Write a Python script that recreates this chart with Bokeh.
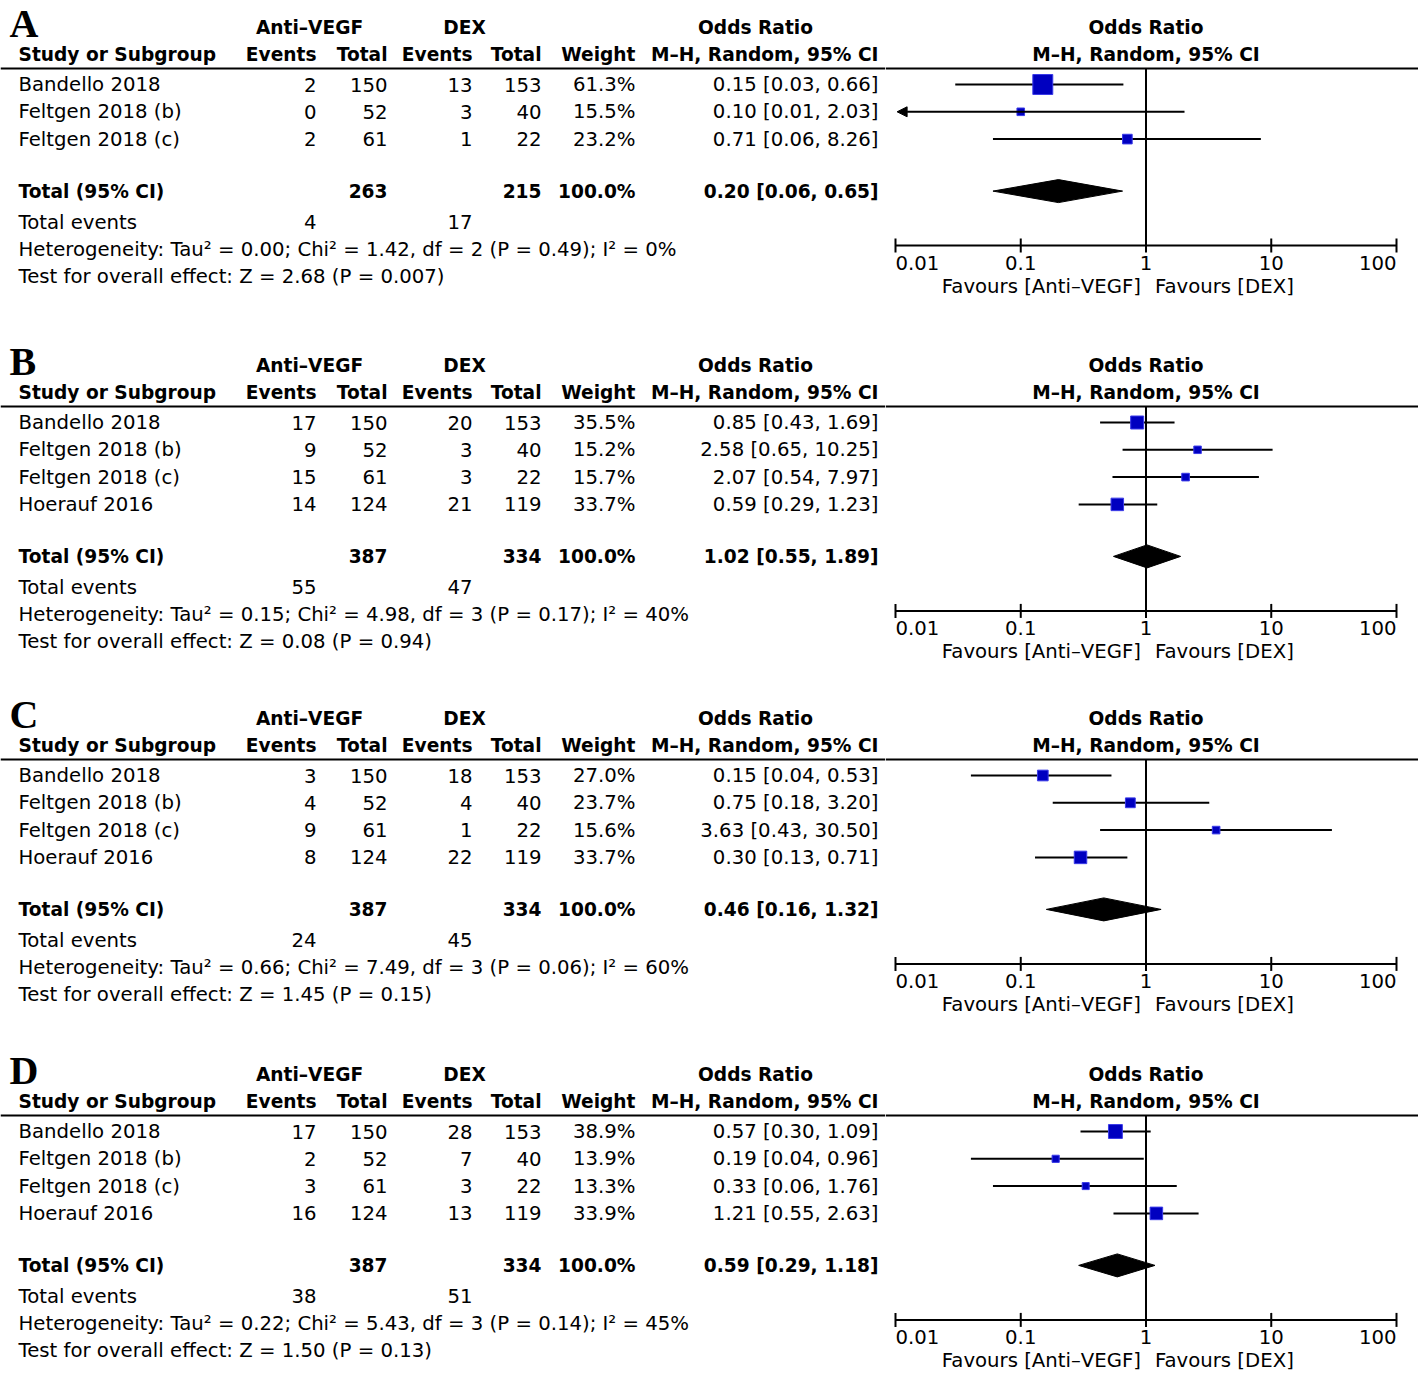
import math
from bokeh.plotting import figure
from bokeh.layouts import column, row
from bokeh.models import Range1d, Span, ColumnDataSource, Arrow, NormalHead
from bokeh.core.properties import value
from bokeh.embed import file_html
from bokeh.resources import INLINE

# ---------------- data ----------------
studies_A = ["Bandello 2018", "Feltgen 2018 (b)", "Feltgen 2018 (c)"]
studies_BCD = ["Bandello 2018", "Feltgen 2018 (b)", "Feltgen 2018 (c)", "Hoerauf 2016"]

A_anti_events = [2, 0, 2]
A_anti_total = [150, 52, 61]
A_dex_events = [13, 3, 1]
A_dex_total = [153, 40, 22]
A_weight = [61.3, 15.5, 23.2]
A_or = [0.15, 0.10, 0.71]
A_lo = [0.03, 0.01, 0.06]
A_hi = [0.66, 2.03, 8.26]
A_totals = [263, 215, 4, 17]          # anti total, dex total, anti events, dex events
A_pooled = [0.20, 0.06, 0.65]          # OR, lower, upper
A_het = "Heterogeneity: Tau² = 0.00; Chi² = 1.42, df = 2 (P = 0.49); I² = 0%"
A_test = "Test for overall effect: Z = 2.68 (P = 0.007)"

B_anti_events = [17, 9, 15, 14]
B_anti_total = [150, 52, 61, 124]
B_dex_events = [20, 3, 3, 21]
B_dex_total = [153, 40, 22, 119]
B_weight = [35.5, 15.2, 15.7, 33.7]
B_or = [0.85, 2.58, 2.07, 0.59]
B_lo = [0.43, 0.65, 0.54, 0.29]
B_hi = [1.69, 10.25, 7.97, 1.23]
B_totals = [387, 334, 55, 47]
B_pooled = [1.02, 0.55, 1.89]
B_het = "Heterogeneity: Tau² = 0.15; Chi² = 4.98, df = 3 (P = 0.17); I² = 40%"
B_test = "Test for overall effect: Z = 0.08 (P = 0.94)"

C_anti_events = [3, 4, 9, 8]
C_anti_total = [150, 52, 61, 124]
C_dex_events = [18, 4, 1, 22]
C_dex_total = [153, 40, 22, 119]
C_weight = [27.0, 23.7, 15.6, 33.7]
C_or = [0.15, 0.75, 3.63, 0.30]
C_lo = [0.04, 0.18, 0.43, 0.13]
C_hi = [0.53, 3.20, 30.50, 0.71]
C_totals = [387, 334, 24, 45]
C_pooled = [0.46, 0.16, 1.32]
C_het = "Heterogeneity: Tau² = 0.66; Chi² = 7.49, df = 3 (P = 0.06); I² = 60%"
C_test = "Test for overall effect: Z = 1.45 (P = 0.15)"

D_anti_events = [17, 2, 3, 16]
D_anti_total = [150, 52, 61, 124]
D_dex_events = [28, 7, 3, 13]
D_dex_total = [153, 40, 22, 119]
D_weight = [38.9, 13.9, 13.3, 33.9]
D_or = [0.57, 0.19, 0.33, 1.21]
D_lo = [0.30, 0.04, 0.06, 0.55]
D_hi = [1.09, 0.96, 1.76, 2.63]
D_totals = [387, 334, 38, 51]
D_pooled = [0.59, 0.29, 1.18]
D_het = "Heterogeneity: Tau² = 0.22; Chi² = 5.43, df = 3 (P = 0.14); I² = 45%"
D_test = "Test for overall effect: Z = 1.50 (P = 0.13)"

total_weight = "100.0%"
axis_ticks = [0.01, 0.1, 1, 10, 100]
axis_tick_labels = ["0.01", "0.1", "1", "10", "100"]
null_value = 1
favours_left = "Favours [Anti–VEGF]"
favours_right = "Favours [DEX]"

# ---------------- style / layout ----------------
FONT = "DejaVu Sans"
FS = "19.7px"
FSB = "18.6px"
SQ_FILL = "#0000C0"
SQ_LINE = "#3A3AE8"

X0, XSPLIT, X1 = 0, 885, 1418
PX_DEC = 125.25  # pixels per decade on forest axis
AX_LEFT_PAD, AX_RIGHT_PAD = 10, 22


def add_text(p, xs, ys, texts, align="left", bold=False, baseline="middle", font=FONT, size=None, **kw):
    src = ColumnDataSource(dict(x=list(xs), y=list(ys), t=list(texts)))
    p.text(x="x", y="y", text="t", source=src, text_align=align, text_baseline=baseline,
           text_font=value(font), text_font_size=size or (FSB if bold else FS),
           text_font_style="bold" if bold else "normal", text_color="black", **kw)


def bare(p):
    p.grid.grid_line_color = None
    p.background_fill_color = "white"
    p.border_fill_color = "white"


def make_panel(letter, studies, ae, at, de, dt, w, orv, lo, hi, totals, pooled, het, test,
               top, bottom, line_y):
    n = len(studies)
    row_y = [line_y + 16 + 27.3 * i for i in range(n)]
    total_y = row_y[-1] + 52
    te_y = total_y + 31
    het_y = te_y + 27
    test_y = het_y + 27
    axis_y = het_y - 3.5
    h = bottom - top

    # ---------- left: table ----------
    L = figure(width=XSPLIT - X0, height=h, x_range=Range1d(X0, XSPLIT), y_range=Range1d(bottom, top),
               output_backend="svg", toolbar_location=None, min_border=0,
               x_axis_location=None, y_axis_location=None, outline_line_color=None)
    bare(L)
    L.add_layout(Span(location=line_y, dimension="width", line_color="black", line_width=2))

    add_text(L, [9], [line_y - 45.5], [letter], bold=True, font="Liberation Serif", size="40px")
    # header
    add_text(L, [309, 464, 755], [line_y - 41] * 3, ["Anti–VEGF", "DEX", "Odds Ratio"], align="center", bold=True)
    add_text(L, [18], [line_y - 14], ["Study or Subgroup"], bold=True)
    add_text(L, [316, 387, 472, 541, 635, 878], [line_y - 14] * 6,
             ["Events", "Total", "Events", "Total", "Weight", "M–H, Random, 95% CI"], align="right", bold=True)
    # study rows
    add_text(L, [18] * n, row_y, studies)
    add_text(L, [316] * n, row_y, [str(v) for v in ae], align="right")
    add_text(L, [387] * n, row_y, [str(v) for v in at], align="right")
    add_text(L, [472] * n, row_y, [str(v) for v in de], align="right")
    add_text(L, [541] * n, row_y, [str(v) for v in dt], align="right")
    add_text(L, [635] * n, row_y, [f"{v:.1f}%" for v in w], align="right")
    add_text(L, [878] * n, row_y, [f"{o:.2f} [{a:.2f}, {b:.2f}]" for o, a, b in zip(orv, lo, hi)], align="right")
    # totals
    add_text(L, [18], [total_y], ["Total (95% CI)"], bold=True)
    add_text(L, [387, 541, 635, 878], [total_y] * 4,
             [str(totals[0]), str(totals[1]), total_weight,
              f"{pooled[0]:.2f} [{pooled[1]:.2f}, {pooled[2]:.2f}]"], align="right", bold=True)
    add_text(L, [18], [te_y], ["Total events"])
    add_text(L, [316, 472], [te_y] * 2, [str(totals[2]), str(totals[3])], align="right")
    add_text(L, [18, 18], [het_y, test_y], [het, test])

    # ---------- right: forest ----------
    lg0 = -2 - AX_LEFT_PAD / PX_DEC
    lg1 = 2 + AX_RIGHT_PAD / PX_DEC
    R = figure(width=X1 - XSPLIT, height=h, x_axis_type="log",
               x_range=Range1d(10 ** lg0, 10 ** lg1), y_range=Range1d(bottom, top),
               output_backend="svg", toolbar_location=None, min_border=0,
               x_axis_location=None, y_axis_location=None, outline_line_color=None)
    bare(R)

    R.add_layout(Span(location=line_y, dimension="width", line_color="black", line_width=2))
    add_text(R, [null_value, null_value], [line_y - 41, line_y - 14],
             ["Odds Ratio", "M–H, Random, 95% CI"], align="center", bold=True)

    # scale axis: line, ticks, tick labels
    R.segment(x0=[axis_ticks[0]], y0=[axis_y], x1=[axis_ticks[-1]], y1=[axis_y],
              line_color="black", line_width=2)
    R.segment(x0=axis_ticks, y0=[axis_y - 7] * len(axis_ticks), x1=axis_ticks,
              y1=[axis_y + 7] * len(axis_ticks), line_color="black", line_width=2)
    add_text(R, axis_ticks[:1], [axis_y + 17.5], axis_tick_labels[:1], align="left")
    add_text(R, axis_ticks[1:-1], [axis_y + 17.5] * (len(axis_ticks) - 2), axis_tick_labels[1:-1], align="center")
    add_text(R, axis_ticks[-1:], [axis_y + 17.5], axis_tick_labels[-1:], align="right")
    add_text(R, [null_value], [axis_y + 41], [favours_left], align="right", x_offset=-5)
    add_text(R, [null_value], [axis_y + 41], [favours_right], align="left", x_offset=9)

    # null line
    R.segment(x0=[null_value], y0=[line_y], x1=[null_value], y1=[axis_y], line_color="black", line_width=2)

    # CIs
    lo_min = axis_ticks[0]
    full = [i for i in range(n) if lo[i] > lo_min]
    cut = [i for i in range(n) if lo[i] <= lo_min]
    R.segment(x0=[lo[i] for i in full], y0=[row_y[i] for i in full],
              x1=[hi[i] for i in full], y1=[row_y[i] for i in full], line_color="black", line_width=2)
    for i in cut:
        R.add_layout(Arrow(end=NormalHead(size=10, fill_color="black", line_color="black"),
                           x_start=hi[i], y_start=row_y[i], x_end=lo_min * 1.03, y_end=row_y[i],
                           line_color="black", line_width=2))
    # squares
    R.scatter(x=orv, y=row_y, size=[3.4 + 0.27 * wi for wi in w], marker="square",
              fill_color=SQ_FILL, line_color=SQ_LINE, line_width=1)
    # diamond
    dh = 11.5
    R.patches(xs=[[pooled[1], pooled[0], pooled[2], pooled[0]]],
              ys=[[total_y, total_y - dh, total_y, total_y + dh]],
              fill_color="black", line_color="black")
    return row(L, R)


pA = make_panel("A", studies_A, A_anti_events, A_anti_total, A_dex_events, A_dex_total, A_weight,
                A_or, A_lo, A_hi, A_totals, A_pooled, A_het, A_test, 0, 320, 68)
pB = make_panel("B", studies_BCD, B_anti_events, B_anti_total, B_dex_events, B_dex_total, B_weight,
                B_or, B_lo, B_hi, B_totals, B_pooled, B_het, B_test, 320, 678, 406)
pC = make_panel("C", studies_BCD, C_anti_events, C_anti_total, C_dex_events, C_dex_total, C_weight,
                C_or, C_lo, C_hi, C_totals, C_pooled, C_het, C_test, 678, 1034, 759)
pD = make_panel("D", studies_BCD, D_anti_events, D_anti_total, D_dex_events, D_dex_total, D_weight,
                D_or, D_lo, D_hi, D_totals, D_pooled, D_het, D_test, 1034, 1375, 1115)

layout = column(pA, pB, pC, pD)
open("out.html", "w").write(file_html(layout, INLINE))
